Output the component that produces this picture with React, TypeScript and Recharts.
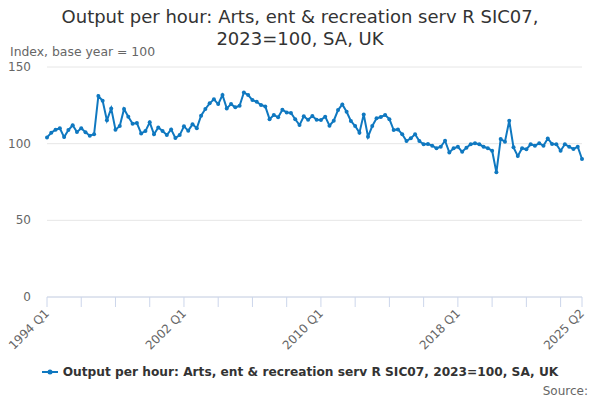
import { LineChart, Line, XAxis, YAxis, CartesianGrid } from "recharts";

const FIRST_YEAR = 1994;
const QUARTERS: string[] = [];
for (let i = 0; i < 126; i++) {
  QUARTERS.push(`${FIRST_YEAR + Math.floor(i / 4)} Q${(i % 4) + 1}`);
}

// index values, 2023=100
const VALUES = [
  104.1, 107.1, 109.1, 110.0, 104.3, 108.9, 112.0, 107.6, 110.0, 107.4, 105.2, 106.1,
  131.1, 128.0, 115.2, 123.0, 109.1, 111.5, 122.6, 117.6, 113.0, 113.4, 106.7, 108.2,
  113.9, 106.1, 110.6, 108.2, 105.6, 109.3, 103.7, 105.6, 111.3, 108.5, 112.6, 110.0,
  118.2, 122.6, 126.3, 128.9, 125.8, 131.7, 123.0, 125.8, 123.7, 124.7, 133.4, 131.7,
  128.4, 127.3, 125.2, 124.3, 116.0, 118.7, 117.2, 122.1, 120.4, 120.0, 115.9, 112.1,
  117.8, 115.6, 118.0, 115.6, 115.4, 117.6, 111.7, 115.0, 121.9, 125.6, 120.8, 114.8,
  111.5, 107.2, 119.1, 104.5, 111.5, 116.5, 117.4, 118.7, 116.0, 108.9, 109.3, 106.1,
  101.7, 103.5, 106.1, 101.7, 99.6, 99.8, 98.7, 97.0, 98.0, 101.9, 94.3, 97.0,
  98.0, 94.7, 97.4, 99.6, 100.2, 99.6, 98.0, 97.0, 95.4, 81.3, 103.0, 101.3,
  115.0, 97.6, 91.9, 97.0, 96.3, 99.6, 98.7, 100.2, 98.7, 103.4, 99.8, 99.6,
  95.4, 99.6, 98.0, 96.5, 98.0, 90.0,
];

const TICK_MARKS = [
  "1994 Q1", "1996 Q1", "1998 Q1", "2000 Q1", "2002 Q1", "2004 Q1", "2006 Q1", "2008 Q1",
  "2010 Q1", "2012 Q1", "2014 Q1", "2016 Q1", "2018 Q1", "2020 Q1", "2022 Q1", "2024 Q1",
  "2025 Q2",
];
const TICK_LABELS = ["1994 Q1", "2002 Q1", "2010 Q1", "2018 Q1", "2025 Q2"];
const Y_TICKS = [0, 50, 100, 150];

const SERIES_NAME = "Output per hour: Arts, ent & recreation serv R SIC07, 2023=100, SA, UK";
const LINE_COLOR = "#0f78c0";

const data = QUARTERS.map((q, i) => ({ q, value: VALUES[i] }));

function XTick({ x, y, payload }: any) {
  if (!TICK_LABELS.includes(payload.value)) return null;
  return (
    <text
      transform={`translate(${x + 3},${y + 7}) rotate(-45)`}
      textAnchor="end"
      fill="#666666"
      fontSize={12}
    >
      {payload.value}
    </text>
  );
}

function YTick({ y, payload }: any) {
  return (
    <text x={31} y={y + 4} textAnchor="end" fill="#666666" fontSize={12}>
      {payload.value}
    </text>
  );
}

export default function App() {
  return (
    <div
      style={{
        position: "absolute",
        left: 0,
        top: 0,
        width: 600,
        height: 400,
        background: "#ffffff",
        fontFamily: "'DejaVu Sans', sans-serif",
      }}
    >
      <div
        style={{
          position: "absolute",
          top: 6,
          left: 0,
          width: 600,
          textAlign: "center",
          fontSize: 18,
          lineHeight: "22px",
          color: "#333333",
        }}
      >
        Output per hour: Arts, ent &amp; recreation serv R SIC07,
        <br />
        2023=100, SA, UK
      </div>
      <div style={{ position: "absolute", top: 44, left: 10, fontSize: 12.4, color: "#666666" }}>
        Index, base year = 100
      </div>

      <LineChart
        width={600}
        height={400}
        data={data}
        margin={{ top: 67, right: 18, left: 0, bottom: 43 }}
      >
        <CartesianGrid horizontal vertical={false} stroke="#e6e6e6" />
        <XAxis
          dataKey="q"
          ticks={TICK_MARKS}
          interval={0}
          tick={<XTick />}
          tickSize={10}
          tickMargin={0}
          height={60}
          stroke="#ccd6eb"
          tickLine={{ stroke: "#ccd6eb" }}
          axisLine={{ stroke: "#ccd6eb" }}
        />
        <YAxis
          domain={[0, 150]}
          ticks={Y_TICKS}
          width={47}
          axisLine={false}
          tickLine={false}
          tick={<YTick />}
        />
        <Line
          type="linear"
          dataKey="value"
          stroke={LINE_COLOR}
          strokeWidth={2}
          dot={{ r: 2, fill: LINE_COLOR, stroke: "none" }}
          activeDot={false}
          isAnimationActive={false}
        />
      </LineChart>

      <div
        style={{
          position: "absolute",
          top: 365,
          left: 0,
          width: 600,
          display: "flex",
          justifyContent: "center",
          alignItems: "center",
          fontSize: 12.2,
          fontWeight: "bold",
          color: "#333333",
        }}
      >
        <svg width={16} height={10} style={{ marginRight: 5 }}>
          <line x1={0} y1={5} x2={16} y2={5} stroke={LINE_COLOR} strokeWidth={2} />
          <circle cx={8} cy={5} r={2.5} fill={LINE_COLOR} />
        </svg>
        <span>{SERIES_NAME}</span>
      </div>
      <div style={{ position: "absolute", top: 384, right: 12, fontSize: 12, color: "#666666" }}>
        Source:
      </div>
    </div>
  );
}
